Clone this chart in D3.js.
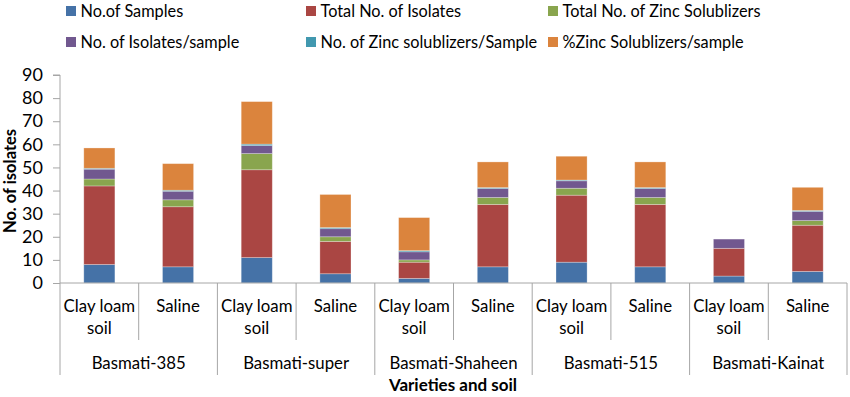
<!DOCTYPE html>
<html>
<head>
<meta charset="utf-8">
<script src="https://cdn.jsdelivr.net/npm/d3@7"></script>
<style>
  body { margin: 0; background: #fff; }
  svg { font-family: Lato, "Open Sans", sans-serif; }
</style>
</head>
<body>
<svg id="chart" width="850" height="397"></svg>
<script>
// categories
const varieties = ["Basmati-385", "Basmati-super", "Basmati-Shaheen", "Basmati-515", "Basmati-Kainat"];
const soils = [["Clay loam", "soil"], ["Saline"]];

// series values, one per variety/soil column
const samples = [8, 7, 11, 4, 2, 7, 9, 7, 3, 5];
const isolates = [34, 26, 38, 14, 7, 27, 29, 27, 12, 20];
const zincSolubilizers = [3, 3, 7, 2, 1, 3, 3, 3, 0, 2];
const isolatesPerSample = [4.25, 3.71, 3.45, 3.5, 3.5, 3.86, 3.22, 3.86, 4, 4];
const zincPerSample = [0.38, 0.43, 0.64, 0.5, 0.5, 0.43, 0.33, 0.43, 0, 0.4];
const pctZinc = [8.8, 11.5, 18.4, 14.3, 14.3, 11.1, 10.3, 11.1, 0, 10];

const seriesNames = [
  "No.of Samples",
  "Total No. of Isolates",
  "Total No. of Zinc Solublizers",
  "No. of Isolates/sample",
  "No. of Zinc solublizers/Sample",
  "%Zinc Solublizers/sample",
];
const yTicks = [0, 10, 20, 30, 40, 50, 60, 70, 80, 90];

const colors = ["#4572A7", "#AA4643", "#89A54E", "#71588F", "#4198AF", "#DB843D"];
const seriesValues = [samples, isolates, zincSolubilizers, isolatesPerSample, zincPerSample, pctZinc];

const rows = samples.map((_, i) => {
  const r = { i };
  seriesNames.forEach((name, k) => (r[name] = seriesValues[k][i]));
  return r;
});

const dims = { left: 60, right: 847, top: 75, bottom: 283 };
const axisColor = "#A6A6A6";
const fs = 16.8;

const svg = d3.select("#chart");

const x = d3
  .scaleBand()
  .domain(d3.range(rows.length))
  .range([dims.left, dims.right])
  .padding(0);
const y = d3.scaleLinear().domain([0, 90]).range([dims.bottom, dims.top]);

const stack = d3.stack().keys(seriesNames);
const stacked = stack(rows);

const barW = x.bandwidth() * 0.395;

// bars
svg
  .append("g")
  .selectAll("g")
  .data(stacked)
  .join("g")
  .attr("fill", (d, k) => colors[k])
  .selectAll("rect")
  .data((d) => d.filter((s) => s[1] - s[0] > 0))
  .join("rect")
  .attr("x", (d) => x(d.data.i) + (x.bandwidth() - barW) / 2)
  .attr("width", barW)
  .attr("y", (d) => y(d[1]))
  .attr("height", (d) => y(d[0]) - y(d[1]))
  .attr("stroke", "rgba(255,255,255,0.35)")
  .attr("stroke-width", 0.8);

// y axis
const yAxis = svg
  .append("g")
  .attr("transform", `translate(${dims.left},0)`)
  .call(d3.axisLeft(y).tickValues(yTicks).tickSize(7).tickPadding(10));
yAxis.select(".domain").attr("stroke", axisColor).attr("d", `M-7,${y(90)}H0V${dims.bottom}`);
yAxis.selectAll(".tick line").attr("stroke", axisColor);
yAxis
  .selectAll(".tick text")
  .attr("fill", "#000")
  .attr("font-size", 18)
  .attr("font-family", "Lato, sans-serif");

// x baseline and category separators
const gx = svg.append("g").attr("stroke", axisColor).attr("stroke-width", 1);
gx.append("line")
  .attr("x1", dims.left)
  .attr("x2", dims.right)
  .attr("y1", dims.bottom)
  .attr("y2", dims.bottom);

d3.range(rows.length + 1).forEach((i) => {
  const xp = i < rows.length ? x(i) : dims.right;
  const isGroup = i % 2 === 0;
  gx.append("line")
    .attr("x1", xp)
    .attr("x2", xp)
    .attr("y1", dims.bottom)
    .attr("y2", isGroup ? 375 : 340);
});

// soil labels
const soilG = svg.append("g").attr("font-size", fs).attr("text-anchor", "middle").attr("fill", "#000");
rows.forEach((r) => {
  const lines = soils[r.i % 2];
  const cx = x(r.i) + x.bandwidth() / 2;
  lines.forEach((ln, j) => {
    soilG.append("text").attr("x", cx).attr("y", 312 + j * 22).text(ln);
  });
});

// variety labels
const varG = svg.append("g").attr("font-size", fs).attr("text-anchor", "middle").attr("fill", "#000");
varieties.forEach((v, g) => {
  const cx = x(g * 2) + x.bandwidth();
  varG.append("text").attr("x", cx).attr("y", 369).text(v);
});

// axis titles
svg
  .append("text")
  .attr("x", 453)
  .attr("y", 391)
  .attr("text-anchor", "middle")
  .attr("font-weight", "bold")
  .attr("font-size", 17)
  .text("Varieties and soil");

svg
  .append("text")
  .attr("transform", `translate(16,181) rotate(-90)`)
  .attr("text-anchor", "middle")
  .attr("font-weight", "bold")
  .attr("font-size", 16.5)
  .text("No. of isolates");

// legend
const legendPos = [
  [66, 11], [306, 11], [548, 11],
  [66, 42], [306, 42], [548, 42],
];
const legend = svg
  .append("g")
  .selectAll("g")
  .data(seriesNames)
  .join("g")
  .attr("transform", (d, k) => `translate(${legendPos[k][0]},${legendPos[k][1]})`);
legend
  .append("rect")
  .attr("x", 0)
  .attr("y", -5)
  .attr("width", 10)
  .attr("height", 10)
  .attr("fill", (d, k) => colors[k]);
legend
  .append("text")
  .attr("x", 14.5)
  .attr("dy", "0.35em")
  .attr("font-size", 16.3)
  .text((d) => d);
</script>
</body>
</html>
